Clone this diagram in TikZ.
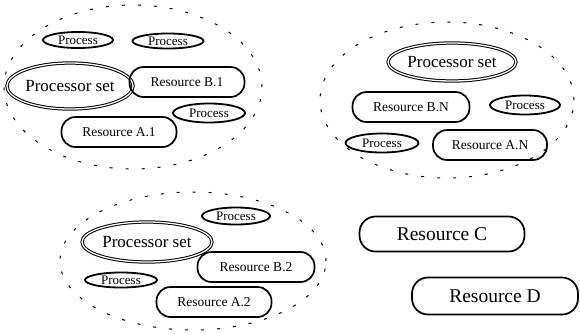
\documentclass[tikz,border=0pt]{standalone}
\usepackage{fontspec}
\setmainfont{Liberation Serif}
\usetikzlibrary{shapes.geometric}
\tikzset{
  grp/.style={draw, ellipse, line width=1pt, dash pattern=on 3pt off 13pt, inner sep=0pt},
  procset/.style={draw, ellipse, double, line width=1pt, double distance=1.3pt, inner sep=0pt, font=\fontsize{17}{19}\selectfont},
  proc/.style={draw, ellipse, line width=1.8pt, inner sep=0pt, font=\fontsize{13}{15}\selectfont},
  res/.style={draw, rounded corners=14pt, line width=1.7pt, inner sep=0pt, minimum width=115pt, minimum height=30pt, font=\fontsize{13.5}{15}\selectfont},
  bigres/.style={draw, rounded corners=16pt, line width=1.7pt, inner sep=0pt, minimum width=166pt, minimum height=36pt, font=\fontsize{19.5}{21}\selectfont}
}
\begin{document}
\begin{tikzpicture}[x=1pt,y=-1pt]
\useasboundingbox (0,0) rectangle (580,333);
% group 1
\node[grp, minimum width=258pt, minimum height=164pt] (g1) at (133,87) {};
\node[proc, minimum width=70pt, minimum height=16pt] (p11) at (78,40) {Process};
\node[proc, minimum width=71pt, minimum height=15pt] (p12) at (168,41) {Process};
\node[procset, minimum width=126pt, minimum height=46pt] (ps1) at (70,86) {Processor set};
\node[res] (rb1) at (187,82) {Resource B.1};
\node[proc, minimum width=72pt, minimum height=19pt] (p13) at (209,113) {Process};
\node[res] (ra1) at (119,132) {Resource A.1};
% group N
\node[grp, minimum width=254pt, minimum height=156pt] (gn) at (447,100) {};
\node[procset, minimum width=128pt, minimum height=38pt] (psn) at (452,62) {Processor set};
\node[res, minimum width=117pt] (rbn) at (411,107) {Resource B.N};
\node[proc, minimum width=70pt, minimum height=19pt] (pn1) at (525,105) {Process};
\node[proc, minimum width=73pt, minimum height=19pt] (pn2) at (382,143) {Process};
\node[res, minimum width=114pt] (ran) at (490,145) {Resource A.N};
% group 2
\node[grp, minimum width=266pt, minimum height=138pt] (g2) at (193,261) {};
\node[procset, minimum width=130pt, minimum height=40pt] (ps2) at (147,242) {Processor set};
\node[proc, minimum width=68pt, minimum height=17pt] (p21) at (236,216) {Process};
\node[res, minimum width=117pt] (rb2) at (256,267) {Resource B.2};
\node[proc, minimum width=72pt, minimum height=15pt] (p22) at (121,280) {Process};
\node[res] (ra2) at (214,302) {Resource A.2};
% stand-alone resources
\node[bigres, minimum width=165pt, minimum height=35pt] (rc) at (442,234) {Resource C};
\node[bigres, minimum width=166pt, minimum height=37pt] (rd) at (495,296) {Resource D};
\end{tikzpicture}
\end{document}
